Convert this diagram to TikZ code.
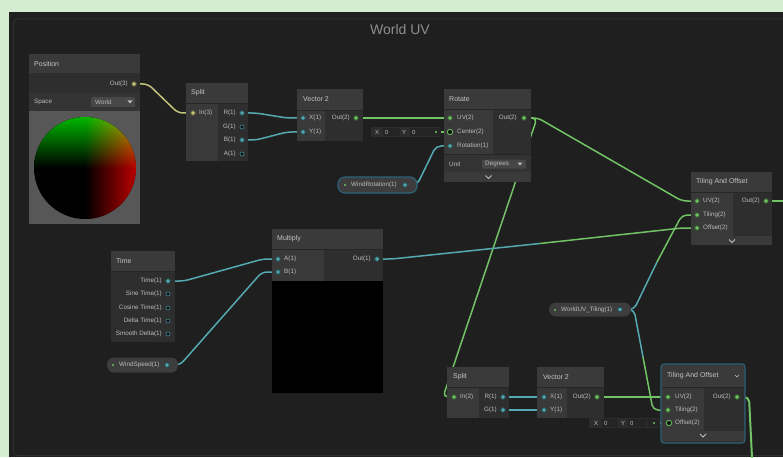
\documentclass[tikz,border=0pt]{standalone}
\usepackage{fontspec}
\setmainfont{Liberation Sans}
\usetikzlibrary{shadings}
\pgfdeclarelayer{bg}
\pgfdeclarelayer{wires}
\pgfsetlayers{bg,wires,main}
\definecolor{outerbg}{HTML}{D5ECD0}
\definecolor{canvasc}{HTML}{202020}
\definecolor{framec}{HTML}{1F1F1F}
\definecolor{framel}{HTML}{2F2F2F}
\definecolor{hdr}{HTML}{3A3A3A}
\definecolor{incol}{HTML}{393939}
\definecolor{outcol}{HTML}{2E2E2E}
\definecolor{rowc}{HTML}{333333}
\definecolor{sepc}{HTML}{262626}
\definecolor{txt}{HTML}{BDBDBD}
\definecolor{htc}{HTML}{C4C4C4}
\definecolor{titlec}{HTML}{8E8E8E}
\definecolor{wf}{HTML}{55A9B2}
\definecolor{wv}{HTML}{72C266}
\definecolor{wy}{HTML}{C3C47A}
\definecolor{selb}{HTML}{2D6179}
\definecolor{pillc}{HTML}{3D3D3D}
\definecolor{fieldbg}{HTML}{2C2C2C}
\definecolor{fieldv}{HTML}{242424}
\definecolor{ddc}{HTML}{474747}
\definecolor{prevbg}{HTML}{575757}
\definecolor{qgreen}{HTML}{00C800}
\definecolor{qyellow}{HTML}{C8B400}
\definecolor{qred}{HTML}{C80000}
\begin{document}
\begin{tikzpicture}[x=1pt,y=-1pt,
 bx/.style 2 args={anchor=north west, inner sep=0pt, outer sep=0pt, minimum width=#1, minimum height=#2, draw=none},
 htxt/.style={anchor=west, inner sep=0pt, text=htc, font=\fontsize{7}{8}\selectfont},
 plbl/.style={inner sep=0pt, text=txt, font=\fontsize{6.3}{7.5}\selectfont},
 ftxt/.style={inner sep=0pt, text=txt, font=\fontsize{6}{7}\selectfont},
 cport/.style={circle, inner sep=0pt, minimum size=4.6pt, draw=#1!45!black, line width=0.9pt, fill=#1},
 hport/.style={circle, inner sep=0pt, minimum size=4.2pt, draw=#1!85!black, line width=0.55pt, fill=#1!10!black},
 bport/.style={circle, inner sep=0pt, minimum size=5.4pt, draw=#1!90!black, line width=1pt, fill=#1!8!black},
 gdot/.style={circle, inner sep=0pt, minimum size=2.4pt, fill=wv},
 wire/.style={draw=#1, line width=1.5pt, rounded corners=5pt},
 pillbox/.style 2 args={bx={#1}{#2}, fill=pillc, rounded corners=7pt},
 chev/.style={draw=txt, line width=0.8pt},
]
\useasboundingbox (0,0) rectangle (783,457);
\begin{pgfonlayer}{bg}
\fill[outerbg] (0,0) rectangle (783,457);
\fill[canvasc] (9,12) rectangle (783,457);
\draw[framel, fill=framec, line width=1pt, rounded corners=4pt] (13.5,19) rectangle (795,455.5);
\end{pgfonlayer}
\node[font=\fontsize{14}{16}\selectfont, text=titlec, inner sep=0pt] (title) at (400,29) {World UV};

% ---------- Position ----------
\node[bx={111}{19}, fill=hdr] (posh) at (29,54) {};
\node[htxt] (post) at (34,64) {Position};
\node[bx={111}{20}, fill=outcol] (posb) at (29,73) {};
\node[plbl, anchor=east] (posol) at (128,84) {Out(3)};
\node[cport=wy] (poso) at (134,84) {};
\node[bx={111}{18}, fill=rowc] (poss) at (29,93) {};
\node[plbl, anchor=west] (possl) at (34,102) {Space};
\node[bx={44}{10}, fill=ddc, rounded corners=1pt] (posdd) at (91,97) {};
\node[plbl, anchor=west] (posddt) at (95,102) {World};
\fill[txt] (127.5,100.5) -- (132.5,100.5) -- (130,103.5) -- cycle;
\node[bx={111}{113}, fill=prevbg] (posp) at (29,111) {};
\begin{scope}
\clip (85,168) circle [radius=51];
\fill[black] (30,112) rectangle (140,224);
\shade[top color=qgreen, bottom color=black] (30,112) rectangle (85,168);
\shade[upper left=qgreen, upper right=qyellow, lower left=black, lower right=qred] (85,112) rectangle (140,168);
\shade[left color=black, right color=qred] (85,168) rectangle (140,224);
\end{scope}

% ---------- Split (top) ----------
\node[bx={62}{20}, fill=hdr] (s1h) at (186,83) {};
\node[htxt] (s1t) at (191,93) {Split};
\node[bx={32}{58}, fill=incol] (s1i) at (186,103) {};
\node[bx={30}{58}, fill=outcol] (s1o) at (218,103) {};
\draw[sepc, line width=0.6pt] (186,103) -- (248,103);
\node[cport=wy] (s1in) at (193,113) {};
\node[plbl, anchor=west] (s1inl) at (199,113) {In(3)};
\node[cport=wf] (s1r) at (242,113) {};
\node[hport=wf] (s1g) at (242,127) {};
\node[cport=wf] (s1b) at (242,140) {};
\node[hport=wf] (s1a) at (242,154) {};
\node[plbl, anchor=east] (s1rl) at (236,113) {R(1)};
\node[plbl, anchor=east] (s1gl) at (236,127) {G(1)};
\node[plbl, anchor=east] (s1bl) at (236,140) {B(1)};
\node[plbl, anchor=east] (s1al) at (236,154) {A(1)};

% ---------- Vector 2 (top) ----------
\node[bx={66}{21}, fill=hdr] (vah) at (297,89) {};
\node[htxt] (vat) at (303,99) {Vector 2};
\node[bx={28}{31}, fill=incol] (vai) at (297,110) {};
\node[bx={38}{31}, fill=outcol] (vao) at (325,110) {};
\draw[sepc, line width=0.6pt] (297,110) -- (363,110);
\node[cport=wf] (vax) at (303,118) {};
\node[cport=wf] (vay) at (303,132) {};
\node[plbl, anchor=west] (vaxl) at (309,118) {X(1)};
\node[plbl, anchor=west] (vayl) at (309,132) {Y(1)};
\node[cport=wv] (vaout) at (356,118) {};
\node[plbl, anchor=east] (vaoutl) at (350,118) {Out(2)};

% field for Rotate center
\node[bx={70}{10}, fill=fieldbg] (f1) at (371,127) {};
\node[bx={17}{8}, fill=fieldv] (f1v1) at (383,128) {};
\node[bx={18}{8}, fill=fieldv] (f1v2) at (410,128) {};
\node[bx={13}{8}, fill=fieldv] (f1v3) at (428,128) {};
\node[ftxt] (f1x) at (377,132) {X};
\node[ftxt, anchor=west] (f1x0) at (385,132) {0};
\node[ftxt] (f1y) at (404,132) {Y};
\node[ftxt, anchor=west] (f1y0) at (412,132) {0};
\node[gdot] (f1d) at (436,132) {};

% ---------- Rotate ----------
\node[bx={87}{20}, fill=hdr] (roth) at (444,89) {};
\node[htxt] (rott) at (449,99) {Rotate};
\node[bx={49}{45}, fill=incol] (roti) at (444,109) {};
\node[bx={38}{45}, fill=outcol] (roto) at (493,109) {};
\draw[sepc, line width=0.6pt] (444,109) -- (531,109);
\node[cport=wv] (rotuv) at (450,118) {};
\node[bport=wv] (rotc) at (450,132) {};
\node[cport=wf] (rotr) at (450,146) {};
\node[plbl, anchor=west] (rotuvl) at (457,118) {UV(2)};
\node[plbl, anchor=west] (rotcl) at (457,132) {Center(2)};
\node[plbl, anchor=west] (rotrl) at (457,146) {Rotation(1)};
\node[cport=wv] (rotout) at (524,118) {};
\node[plbl, anchor=east] (rotoutl) at (517,118) {Out(2)};
\node[bx={87}{18}, fill=rowc] (rotu) at (444,154) {};
\draw[sepc, line width=0.6pt] (444,154) -- (531,154);
\node[plbl, anchor=west] (rotul) at (449,164) {Unit};
\node[bx={44}{9}, fill=ddc, rounded corners=1pt] (rotdd) at (482,159.5) {};
\node[plbl, anchor=west] (rotddt) at (485,164) {Degrees};
\fill[txt] (517.5,162.5) -- (522.5,162.5) -- (520,165.5) -- cycle;
\node[bx={87}{10}, fill=hdr] (rotx) at (444,172) {};
\draw[chev] (485.5,175.5) -- (488.5,178.5) -- (491.5,175.5);

% WindRotation property
\node[pillbox={79}{16}, draw=selb, line width=1.2pt] (wrp) at (338,177) {};
\node[gdot] (wrd) at (345,185) {};
\node[plbl, anchor=west] (wrl) at (351,185) {WindRotation(1)};
\node[cport=wf] (wro) at (405,185) {};

% ---------- Tiling And Offset (top) ----------
\node[bx={81}{20}, fill=hdr] (t1h) at (691,172) {};
\node[htxt] (t1t) at (696,182) {Tiling And Offset};
\node[bx={42}{44}, fill=incol] (t1i) at (691,192) {};
\node[bx={39}{44}, fill=outcol] (t1o) at (733,192) {};
\draw[sepc, line width=0.6pt] (691,192) -- (772,192);
\node[cport=wv] (t1uv) at (697,201) {};
\node[cport=wv] (t1ti) at (697,215) {};
\node[cport=wv] (t1of) at (697,228) {};
\node[plbl, anchor=west] (t1uvl) at (703,201) {UV(2)};
\node[plbl, anchor=west] (t1til) at (703,215) {Tiling(2)};
\node[plbl, anchor=west] (t1ofl) at (703,228) {Offset(2)};
\node[cport=wv] (t1out) at (766,201) {};
\node[plbl, anchor=east] (t1outl) at (760,201) {Out(2)};
\node[bx={81}{9}, fill=hdr] (t1x) at (691,236) {};
\draw[chev] (729,239.5) -- (732,242.5) -- (735,239.5);
\coordinate (rightend) at (783,201);

% ---------- Time ----------
\node[bx={64}{20}, fill=hdr] (tmh) at (111,251) {};
\node[htxt] (tmt) at (116,261) {Time};
\node[bx={64}{71}, fill=outcol] (tmb) at (111,271) {};
\draw[sepc, line width=0.6pt] (111,271) -- (175,271);
\node[cport=wf] (tm1) at (168,281) {};
\node[hport=wf] (tm2) at (168,294) {};
\node[hport=wf] (tm3) at (168,308) {};
\node[hport=wf] (tm4) at (168,321) {};
\node[hport=wf] (tm5) at (168,334) {};
\node[plbl, anchor=east] (tm1l) at (162,281) {Time(1)};
\node[plbl, anchor=east] (tm2l) at (162,294) {Sine Time(1)};
\node[plbl, anchor=east] (tm3l) at (162,308) {Cosine Time(1)};
\node[plbl, anchor=east] (tm4l) at (162,321) {Delta Time(1)};
\node[plbl, anchor=east] (tm5l) at (162,334) {Smooth Delta(1)};

% WindSpeed property
\node[pillbox={71}{15}] (wsp) at (107,357.5) {};
\node[gdot] (wsd) at (113,365) {};
\node[plbl, anchor=west] (wsl) at (119,365) {WindSpeed(1)};
\node[cport=wf] (wso) at (167,365) {};

% ---------- Multiply ----------
\node[bx={111}{20}, fill=hdr] (mh) at (272,229) {};
\node[htxt] (mt) at (277,239) {Multiply};
\node[bx={52}{32}, fill=incol] (mi) at (272,249) {};
\node[bx={59}{32}, fill=outcol] (mo) at (324,249) {};
\draw[sepc, line width=0.6pt] (272,249) -- (383,249);
\node[cport=wf] (ma) at (278,259) {};
\node[cport=wf] (mb) at (278,272) {};
\node[plbl, anchor=west] (mal) at (284,259) {A(1)};
\node[plbl, anchor=west] (mbl) at (284,272) {B(1)};
\node[cport=wf] (mout) at (377,259) {};
\node[plbl, anchor=east] (moutl) at (371,259) {Out(1)};
\node[bx={111}{112}, fill=black] (mp) at (272,281) {};

% WorldUV_Tiling property
\node[pillbox={82}{14}] (wup) at (549,302.5) {};
\node[gdot] (wud) at (555,310) {};
\node[plbl, anchor=west] (wul) at (561,310) {WorldUV\_Tiling(1)};
\node[cport=wf] (wuo) at (620,309.5) {};

% ---------- Split (bottom) ----------
\node[bx={62}{20}, fill=hdr] (s2h) at (447,367) {};
\node[htxt] (s2t) at (453,377) {Split};
\node[bx={32}{31}, fill=incol] (s2i) at (447,387) {};
\node[bx={30}{31}, fill=outcol] (s2o) at (479,387) {};
\draw[sepc, line width=0.6pt] (447,387) -- (509,387);
\node[cport=wv] (s2in) at (454,397) {};
\node[plbl, anchor=west] (s2inl) at (460,397) {In(2)};
\node[cport=wf] (s2r) at (503,397) {};
\node[cport=wf] (s2g) at (503,410) {};
\node[plbl, anchor=east] (s2rl) at (497,397) {R(1)};
\node[plbl, anchor=east] (s2gl) at (497,410) {G(1)};

% ---------- Vector 2 (bottom) ----------
\node[bx={67}{20}, fill=hdr] (vbh) at (537,367) {};
\node[htxt] (vbt) at (543,377) {Vector 2};
\node[bx={30}{31}, fill=incol] (vbi) at (537,387) {};
\node[bx={37}{31}, fill=outcol] (vbo) at (567,387) {};
\draw[sepc, line width=0.6pt] (537,387) -- (604,387);
\node[cport=wf] (vbx) at (544,397) {};
\node[cport=wf] (vby) at (544,410) {};
\node[plbl, anchor=west] (vbxl) at (550,397) {X(1)};
\node[plbl, anchor=west] (vbyl) at (550,410) {Y(1)};
\node[cport=wv] (vbout) at (597,397) {};
\node[plbl, anchor=east] (vboutl) at (591,397) {Out(2)};

% field for bottom offset
\node[bx={71}{10}, fill=fieldbg] (f2) at (589,418) {};
\node[bx={16}{8}, fill=fieldv] (f2v1) at (602,419) {};
\node[bx={19}{8}, fill=fieldv] (f2v2) at (628,419) {};
\node[bx={12}{8}, fill=fieldv] (f2v3) at (648,419) {};
\node[ftxt] (f2x) at (596,423) {X};
\node[ftxt, anchor=west] (f2x0) at (604,423) {0};
\node[ftxt] (f2y) at (623,423) {Y};
\node[ftxt, anchor=west] (f2y0) at (630,423) {0};
\node[gdot] (f2d) at (654,423) {};

% ---------- Tiling And Offset (bottom, selected) ----------
\node[bx={84}{79}, fill=outcol, draw=selb, line width=1.2pt, rounded corners=3pt] (t2frame) at (661,364) {};
\node[bx={82}{22}, fill=hdr] (t2h) at (662,365) {};
\node[htxt] (t2t) at (667,376) {Tiling And Offset};
\draw[chev, line width=0.6pt] (735,375) -- (737,377) -- (739,375);
\node[bx={42}{44}, fill=incol] (t2i) at (662,387) {};
\node[bx={40}{44}, fill=outcol] (t2o) at (704,387) {};
\draw[sepc, line width=0.6pt] (662,387) -- (744,387);
\node[cport=wv] (t2uv) at (668,397) {};
\node[cport=wv] (t2ti) at (668,410) {};
\node[bport=wv] (t2of) at (669,423) {};
\node[plbl, anchor=west] (t2uvl) at (675,397) {UV(2)};
\node[plbl, anchor=west] (t2til) at (675,410) {Tiling(2)};
\node[plbl, anchor=west] (t2ofl) at (675,423) {Offset(2)};
\node[cport=wv] (t2out) at (737,397) {};
\node[plbl, anchor=east] (t2outl) at (731,397) {Out(2)};
\node[bx={82}{10}, fill=hdr] (t2x) at (662,431) {};
\draw[chev] (700,434) -- (703,437) -- (706,434);
\coordinate (bottomend) at (752,458);

% ---------- Wires ----------
\begin{pgfonlayer}{wires}
\draw[wire=wy] (poso.center) -- ([xshift=14pt]poso.center) -- ([xshift=-15pt]s1in.center) -- (s1in.center);
\draw[wire=wf] (s1r.center) -- ([xshift=14pt]s1r.center) -- ([xshift=-16pt]vax.center) -- (vax.center);
\draw[wire=wf] (s1b.center) -- ([xshift=14pt]s1b.center) -- ([xshift=-16pt]vay.center) -- (vay.center);
\draw[wire=wv] (vaout.center) -- (rotuv.center);
\draw[wire=wv] (f1d.center) -- (rotc.center);
\draw[wire=wf] (wro.center) -- ([xshift=12pt]wro.center) -- ([xshift=-14pt]rotr.center) -- (rotr.center);
\draw[wire=wv] (rotout.center) -- ([xshift=14pt]rotout.center) -- ([xshift=-15pt]t1uv.center) -- (t1uv.center);
\draw[wire=wv] (rotout.center) -- ([xshift=13pt]rotout.center) -- ([xshift=-11pt]s2in.center) -- (s2in.center);
\draw[wire=wf] (tm1.center) -- ([xshift=16pt]tm1.center) -- ([xshift=-15pt]ma.center) -- (ma.center);
\draw[wire=wf] (wso.center) -- ([xshift=13pt]wso.center) -- ([xshift=-16pt]mb.center) -- (mb.center);
\coordinate (mulmid) at (540,243.5);
\draw[wire=wf] (mout.center) -- ([xshift=15pt]mout.center) -- (mulmid);
\draw[wire=wv] (mulmid) -- ([xshift=-15pt]t1of.center) -- (t1of.center);
\coordinate (wumid1) at (657,262);
\draw[wire=wf] (wuo.center) -- ([xshift=14pt]wuo.center) -- (wumid1);
\draw[wire=wv] (wumid1) -- ([xshift=-15pt]t1ti.center) -- (t1ti.center);
\coordinate (wumid2) at (643,357);
\draw[wire=wf] (wuo.center) -- ([xshift=14pt]wuo.center) -- (wumid2);
\draw[wire=wv] (wumid2) -- ([xshift=-15pt]t2ti.center) -- (t2ti.center);
\draw[wire=wf] (s2r.center) -- (vbx.center);
\draw[wire=wf] (s2g.center) -- (vby.center);
\draw[wire=wv] (vbout.center) -- (t2uv.center);
\draw[wire=wv] (f2d.center) -- (t2of.center);
\draw[wire=wv, line width=2pt] (t2out.center) -- ([xshift=12pt]t2out.center) -- (bottomend);
\draw[wire=wv, line width=2.2pt] (t1out.center) -- (rightend);
\end{pgfonlayer}
\end{tikzpicture}
\end{document}
